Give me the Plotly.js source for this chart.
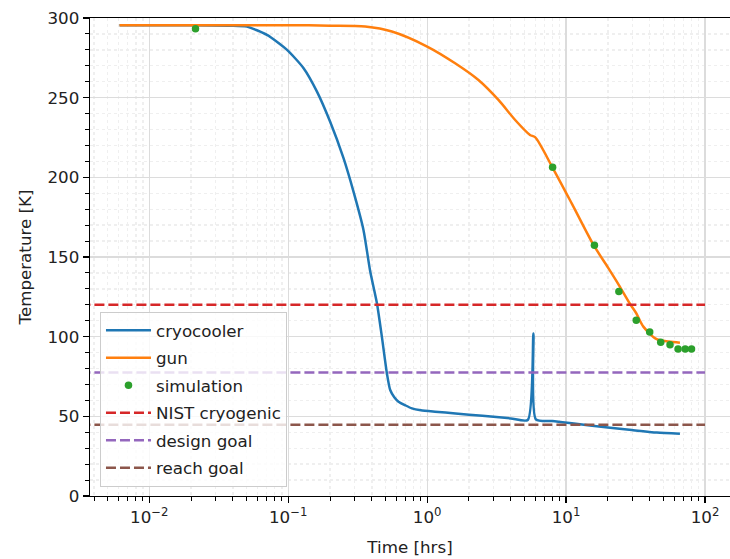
<!DOCTYPE html>
<html>
<head>
<meta charset="utf-8">
<script src="https://cdn.plot.ly/plotly-3.0.1.min.js"></script>
<style>html,body{margin:0;padding:0;background:#fff;}#chart{width:730px;height:559px;}</style>
</head>
<body>
<div id="chart"></div>
<script>
// ---- data (hours, Kelvin) ----
const cryoHours = [0.0061, 0.02, 0.0383, 0.0504, 0.0703, 0.098, 0.129, 0.161, 0.2, 0.25, 0.295, 0.348, 0.389, 0.435, 0.472, 0.513, 0.542, 0.58, 0.622, 0.7, 0.776, 0.9, 1.14, 1.6, 2.5, 4.0, 5.3, 5.82, 6.06, 8.0, 11, 20, 29.7, 45, 66];
const cryoTemp  = [295.5, 295.5, 295.2, 294.6, 289.4, 280, 268.5, 253.8, 235, 212, 191, 167, 141, 121, 100, 77, 66.5, 62, 59.2, 56.8, 55, 53.8, 52.9, 51.8, 50.3, 48.7, 47.7, 102, 48.1, 47, 45.6, 43, 41.4, 39.8, 39];

const gunHours = [0.0061, 0.05, 0.1, 0.2, 0.358, 0.557, 1.0, 1.59, 2.34, 3.26, 4.3, 5.5, 5.98, 7.97, 11, 15.8, 20, 24, 28.9, 32, 36, 44.9, 55, 66];
const gunTemp  = [295.5, 295.5, 295.5, 295.2, 294.6, 291.5, 282.1, 271.6, 261.1, 248.6, 236, 226.6, 225.2, 206.3, 183.5, 157.4, 143.5, 132.4, 120.5, 114.7, 106.3, 98.4, 96.9, 96.2];

const simHours = [0.0215, 8, 16, 24, 32, 40, 48, 56, 64, 72, 80];
const simTemp  = [293.2, 206.3, 157.4, 128.3, 110.3, 103, 96.5, 95, 92.3, 92.3, 92.3];

const goalNames  = ["NIST cryogenic", "design goal", "reach goal"];
const goalTemps  = [120, 77.5, 44.7];
const goalHours  = [0.001, 100];

const xTickVals = [0.01, 0.1, 1, 10, 100];
const xTickText = ["10<sup>\u22122</sup>", "10<sup>\u22121</sup>", "10<sup>0</sup>", "10<sup>1</sup>", "10<sup>2</sup>"];
const yTickVals = [0, 50, 100, 150, 200, 250, 300];

const C = {blue:"#1f77b4", orange:"#ff7f0e", green:"#2ca02c", red:"#d62728", purple:"#9467bd", brown:"#8c564b"};
const goalColors = [C.red, C.purple, C.brown];

const traces = [
  {x: cryoHours, y: cryoTemp, type: "scatter", mode: "lines", name: "cryocooler", legendgroup: "a",
   line: {color: C.blue, width: 2.5, shape: "spline", smoothing: 0.6}},
  {x: gunHours, y: gunTemp, type: "scatter", mode: "lines", name: "gun", legendgroup: "b",
   line: {color: C.orange, width: 2.5, shape: "spline", smoothing: 0.8}},
  {x: simHours, y: simTemp, type: "scatter", mode: "markers", name: "simulation", legendgroup: "c",
   marker: {color: C.green, size: 7.5}}
];
goalNames.forEach((n, i) => {
  traces.push({x: goalHours, y: [goalTemps[i], goalTemps[i]], type: "scatter", mode: "lines", name: n,
    legendgroup: "g" + i, line: {color: goalColors[i], width: 2.5, dash: "10px,4px"}});
});

const gridMajor = "#dcdcdc", gridMinor = "#efefef";
const FS = 16.7;
const layout = {
  width: 730, height: 559,
  margin: {l: 90, r: 0, t: 18, b: 63},
  paper_bgcolor: "#fff", plot_bgcolor: "#fff",
  font: {family: "DejaVu Sans, sans-serif", size: FS, color: "#222"},
  showlegend: true,
  legend: {x: 0.0156, y: 0.019, xanchor: "left", yanchor: "bottom",
    bgcolor: "rgba(255,255,255,0.8)", bordercolor: "#cccccc", borderwidth: 1,
    font: {size: FS, color: "#222"}, tracegroupgap: 2.8, traceorder: "grouped", itemwidth: 45},
  xaxis: {
    type: "log", range: [-2.427, 2.18],
    tickmode: "array", tickvals: xTickVals, ticktext: xTickText,
    ticks: "outside", ticklen: 6, tickcolor: "#000", tickwidth: 1.3,
    showline: true, linecolor: "#000", linewidth: 1.3, mirror: true,
    showgrid: true, gridcolor: gridMajor, gridwidth: 1.3, zeroline: false,
    minor: {dtick: "D1", ticks: "outside", ticklen: 3.5, tickcolor: "#000", tickwidth: 1, showgrid: true, gridcolor: gridMinor, griddash: "dot"},
    title: {text: "Time [hrs]", font: {size: FS, color: "#222"}, standoff: 15}
  },
  yaxis: {
    range: [0, 300],
    tickmode: "array", tickvals: yTickVals,
    ticks: "outside", ticklen: 6, tickcolor: "#000", tickwidth: 1.3,
    showline: true, linecolor: "#000", linewidth: 1.3, mirror: false,
    showgrid: true, gridcolor: gridMajor, gridwidth: 1.3, zeroline: false,
    minor: {dtick: 10, ticks: "outside", ticklen: 3.5, tickcolor: "#000", tickwidth: 1, showgrid: true, gridcolor: gridMinor, griddash: "dot"},
    title: {text: "Temperature [K]", font: {size: FS, color: "#222"}, standoff: 11}
  }
};
Plotly.newPlot("chart", traces, layout, {staticPlot: true, displayModeBar: false});
</script>
</body>
</html>
